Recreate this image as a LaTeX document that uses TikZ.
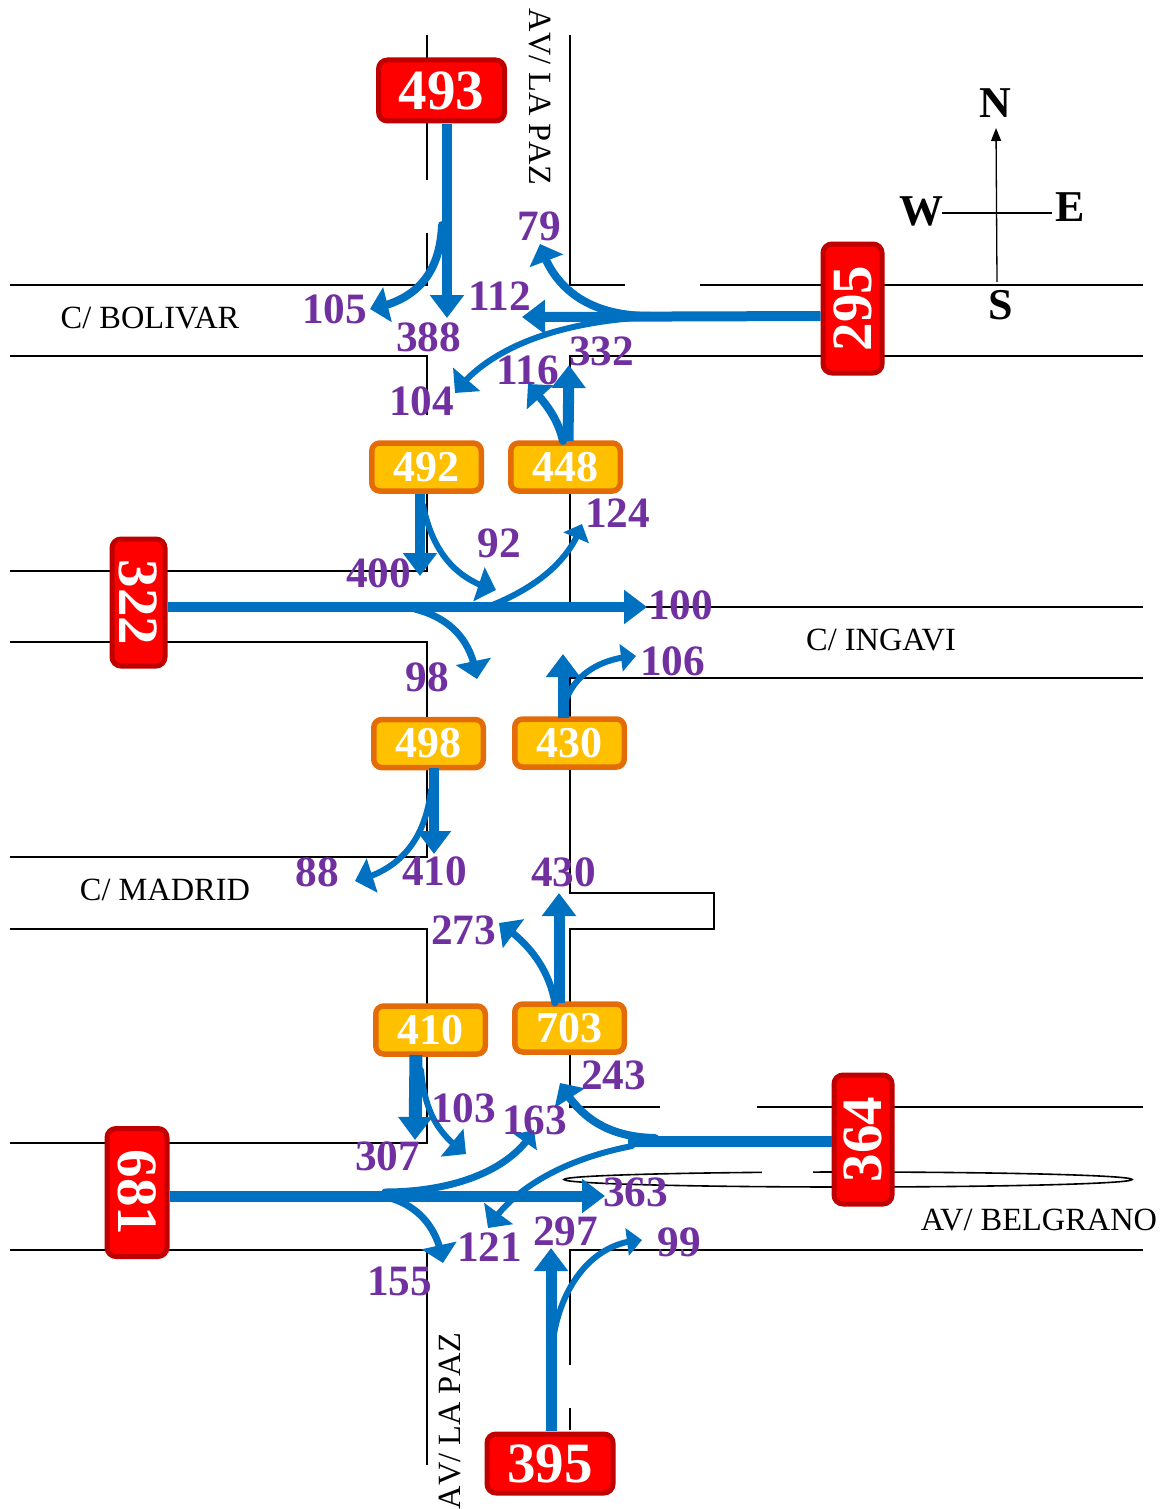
\documentclass[tikz,border=0pt]{standalone}
\usepackage{fontspec}
\setmainfont{Liberation Serif}
\usetikzlibrary{arrows.meta,bending}
\definecolor{flow}{HTML}{0070C0}
\definecolor{purp}{HTML}{7030A0}
\definecolor{redfill}{HTML}{FF0000}
\definecolor{redline}{HTML}{C00000}
\definecolor{orfill}{HTML}{FFC000}
\definecolor{orline}{HTML}{E36C09}
\newcommand{\fs}[1]{\fontsize{#1}{#1}\selectfont}
\tikzset{
  x=1pt,y=-1pt,
  road/.style={draw=black,line width=1.7pt},
  redbox/.style={draw=redline,fill=redfill,line width=5pt,rounded corners=9pt,text=white,font=\fs{57}\bfseries,inner sep=0pt,anchor=center},
  orbox/.style={draw=orline,fill=orfill,line width=5.5pt,rounded corners=8pt,text=white,font=\fs{44}\bfseries,inner sep=0pt,anchor=center,minimum width=109.5pt,minimum height=48pt},
  cnt/.style={text=purp,font=\fs{43.3}\bfseries,inner sep=0pt,xshift=0.5pt},
  street/.style={text=black,font=\fs{32.4},inner sep=0pt},
  compass/.style={text=black,font=\fs{44}\bfseries,inner sep=0pt},
  thru/.style={draw=flow,line width=#1,-{Triangle[length=23pt,width=33pt]}},
  thru/.default=10pt,
  turn/.style={draw=flow,line width=#1,line cap=round,-{Triangle[length=18pt,width=35pt]}},
  turn/.default=7pt,
  thin turn/.style={draw=flow,line width=#1,line cap=round,-{Triangle[length=15pt,width=27pt]}},
  thin turn/.default=6pt,
}
\begin{document}
\begin{tikzpicture}
\useasboundingbox (0,0) rectangle (1170,1509);
% roads
\draw[road] (427,35)--(427,180);
\draw[road] (427,233)--(427,285)--(10,285);
\draw[road] (10,356)--(427,356)--(427,415);
\draw[road] (427,494)--(427,571)--(10,571);
\draw[road] (10,642)--(427,642)--(427,857)--(10,857);
\draw[road] (10,929)--(427,929)--(427,1143)--(10,1143);
\draw[road] (10,1250)--(427,1250)--(427,1465);
\draw[road] (570,35)--(570,285)--(625,285);
\draw[road] (700,285)--(1143,285);
\draw[road] (1143,356)--(570,356)--(570,607)--(1143,607);
\draw[road] (1143,678)--(570,678)--(570,893)--(714,893)--(714,929)--(570,929)--(570,1107)--(660,1107);
\draw[road] (757,1107)--(1143,1107);
\draw[road] (570,1365)--(570,1250)--(1143,1250);
\draw[road] (570,1408)--(570,1430);
\draw[draw=black,line width=1.6pt] (848,1179.5) ellipse [x radius=284,y radius=7.5];
\fill[white] (762,1168) rectangle (813,1176);
% compass
\coordinate (cS) at (997,282);
\coordinate (cN) at (996,128);
\coordinate (cW) at (942,213);
\coordinate (cE) at (1052,213);
\draw[line width=1.3pt,-{Triangle[length=13pt,width=10pt]}] (cS)--(cN);
\draw[line width=1.3pt] (cW)--(cE);
\node[compass] at (995,103) {N};
\node[compass] at (921,211) {W};
\node[compass] at (1070,207) {E};
\node[compass] at (1001,305) {S};
% boxes
\node[redbox,minimum width=126pt,minimum height=61pt] (n493) at (441.5,90.5) {493};
\node[redbox,minimum width=126pt,minimum height=59pt] (n395) at (550,1463.5) {395};
\node[redbox,minimum width=59pt,minimum height=129pt] (n295) at (852.5,308.5) {};
\node[redbox,minimum width=53pt,minimum height=127pt] (n322) at (138.5,602.5) {};
\node[redbox,minimum width=60pt,minimum height=128pt] (n681) at (137,1192.5) {};
\node[redbox,minimum width=58pt,minimum height=129pt] (n364) at (863,1139.5) {};
\node[text=white,font=\fs{57}\bfseries,rotate=90,inner sep=0pt] at (n295) {295};
\node[text=white,font=\fs{57}\bfseries,rotate=-90,inner sep=0pt] at (n322) {322};
\node[text=white,font=\fs{57}\bfseries,rotate=-90,inner sep=0pt] at (n681) {681};
\node[text=white,font=\fs{57}\bfseries,rotate=90,inner sep=0pt] at (n364) {364};
\node[orbox] (n492) at (426.5,467) {492};
\node[orbox] (n448) at (565.5,467) {448};
\node[orbox] (n498) at (428.5,743.5) {498};
\node[orbox] (n430) at (569.5,743) {430};
\node[orbox] (n410) at (430.5,1030) {410};
\node[orbox] (n703) at (569.5,1028) {703};
% flow ends
\coordinate (e388) at (447,318);
\coordinate (e105) at (370,309);
\coordinate (e112) at (522,317);
\coordinate (e79) at (540,244);
\coordinate (e104) at (455,393);
\coordinate (e332) at (569,365);
\coordinate (e116) at (528,384);
\coordinate (e400) at (420,576);
\coordinate (e92) at (496,590);
\coordinate (e100) at (647,607);
\coordinate (e124) at (582,524);
\coordinate (e98) at (477,679);
\coordinate (e430a) at (563,654);
\coordinate (e106) at (636,656);
\coordinate (e410) at (434,854);
\coordinate (e88) at (355,881);
\coordinate (e430b) at (559,893);
\coordinate (e273) at (499,923);
\coordinate (e307) at (415,1140);
\coordinate (e103) at (466,1154);
\coordinate (e363) at (605,1196);
\coordinate (e163) at (534,1130);
\coordinate (e155) at (443,1263);
\coordinate (e243) at (560,1083);
\coordinate (e121) at (488,1228);
\coordinate (e297) at (551,1248);
\coordinate (e99) at (642,1240);
% flows
\draw[thru=10pt] (447,124)--(e388);
\draw[turn=8pt] (442,225) .. controls (440,270) and (420,300) .. (e105);
\draw[thru=10pt] (n295.west |- 0,316)--(e112);
\draw[turn=8pt] (650,316) .. controls (585,316) and (552,285) .. (e79);
\draw[turn=6pt] (650,317) .. controls (550,322) and (485,352) .. (e104);
\draw[thru=11pt] (568,441)--(e332);
\draw[turn=8pt] (563,441) .. controls (558,420) and (548,405) .. (e116);
\draw[thru=10pt] (420,494)--(e400);
\draw[turn=6pt] (423,505) .. controls (432,550) and (455,580) .. (e92);
\draw[thru=10pt] (n322.east |- 0,607)--(e100);
\draw[thin turn=6pt] (490,606) .. controls (530,590) and (568,565) .. (e124);
\draw[turn=7pt] (415,609) .. controls (450,618) and (472,640) .. (e98);
\draw[thru=11pt] (563,718)--(e430a);
\draw[thin turn=6pt] (566,700) .. controls (575,675) and (600,658) .. (e106);
\draw[thru=10pt] (434,768)--(e410);
\draw[turn=6pt] (431,790) .. controls (425,840) and (400,870) .. (e88);
\draw[thru=11pt] (559,1003)--(e430b);
\draw[turn=7pt] (555,1003) .. controls (548,965) and (525,940) .. (e273);
\draw[thru=13pt] (416,1055)--(e307);
\draw[turn=6pt] (421,1070) .. controls (425,1115) and (440,1135) .. (e103);
\draw[thru=11pt] (n681.east |- 0,1196)--(e363);
\draw[thin turn=7pt] (385,1192) .. controls (450,1192) and (510,1172) .. (e163);
\draw[turn=7pt] (390,1198) .. controls (415,1205) and (438,1225) .. (e155);
\draw[draw=flow,line width=11pt] (n364.west |- 0,1141)--(628,1141);
\draw[turn=8pt] (655,1138) .. controls (605,1137) and (578,1115) .. (e243);
\draw[turn=6pt] (632,1146) .. controls (570,1158) and (515,1185) .. (e121);
\draw[thru=11pt] (551,1431)--(e297);
\draw[thin turn=6pt] (553,1340) .. controls (560,1290) and (590,1242) .. (e99);
% counts
\node[cnt] at (539,226) {79};
\node[cnt] at (334,309) {105};
\node[cnt] at (428,337) {388};
\node[cnt] at (499,296) {112};
\node[cnt] at (601,351) {332};
\node[cnt] at (527,370) {116};
\node[cnt] at (421,401) {104};
\node[cnt] at (617,513) {124};
\node[cnt] at (499,543) {92};
\node[cnt] at (378,573) {400};
\node[cnt] at (680,605) {100};
\node[cnt] at (672,661) {106};
\node[cnt] at (427,677) {98};
\node[cnt] at (317,872) {88};
\node[cnt] at (434,871) {410};
\node[cnt] at (563,872) {430};
\node[cnt] at (463,930) {273};
\node[cnt] at (613,1075) {243};
\node[cnt] at (463,1108) {103};
\node[cnt] at (534,1120) {163};
\node[cnt] at (387,1156) {307};
\node[cnt] at (635,1192) {363};
\node[cnt] at (489,1247) {121};
\node[cnt] at (565,1231) {297};
\node[cnt] at (679,1242) {99};
\node[cnt] at (399,1281) {155};
% street names
\node[street] at (150,318) {C/ BOLIVAR};
\node[street] at (881,640) {C/ INGAVI};
\node[street] at (165,890) {C/ MADRID};
\node[street] at (1039,1220) {AV/ BELGRANO};
\node[street,rotate=-90] at (540,97) {\addfontfeatures{Kerning=Off}AV/ LA PAZ};
\node[street,rotate=90] at (450,1421) {\addfontfeatures{Kerning=Off}AV/ LA PAZ};
\end{tikzpicture}
\end{document}
